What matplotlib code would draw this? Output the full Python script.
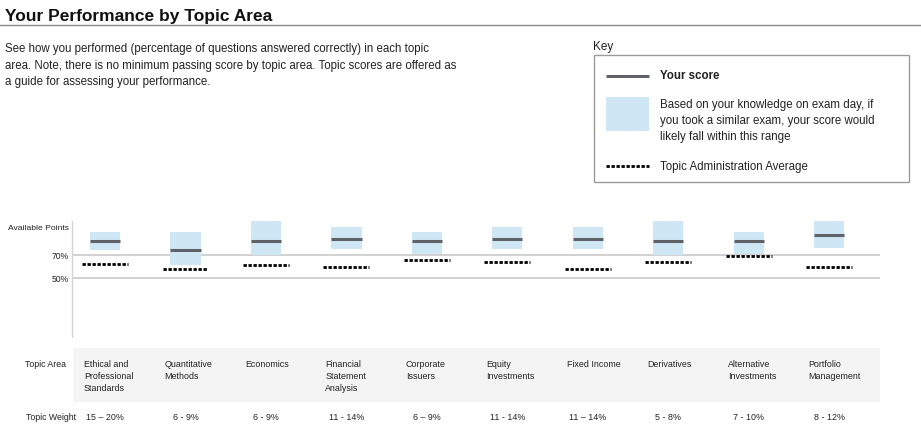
import matplotlib
matplotlib.use("Agg")
import matplotlib.pyplot as plt
from matplotlib.patches import Rectangle

plt.rcParams['font.family'] = ['Liberation Sans', 'DejaVu Sans']

# data (percent of available points)
topics = ["Ethical and\nProfessional\nStandards", "Quantitative\nMethods", "Economics",
          "Financial\nStatement\nAnalysis", "Corporate\nIssuers", "Equity\nInvestments",
          "Fixed Income", "Derivatives", "Alternative\nInvestments", "Portfolio\nManagement"]
weights = ["15 \u2013 20%", "6 - 9%", "6 - 9%", "11 - 14%", "6 \u2013 9%",
           "11 - 14%", "11 \u2013 14%", "5 - 8%", "7 - 10%", "8 - 12%"]
score = [82, 74, 82, 84, 82, 84, 84, 82, 82, 87]
range_low = [74, 61, 70, 75, 71, 75, 75, 70, 71, 76]
range_high = [90, 90, 100, 94, 90, 94, 94, 100, 90, 100]
topic_avg = [62, 58, 61, 60, 66, 64, 58, 64, 69, 60]

W, H = 921, 439
TXT = "#222222"
BLUE = "#cfe6f4"
SCORE_C = "#5f6266"
GRID_C = "#c9c9c9"

fig = plt.figure(figsize=(W / 100, H / 100), dpi=100)

# page overlay in pixel coordinates for layout items
page = fig.add_axes([0, 0, 1, 1])
page.set_xlim(0, W)
page.set_ylim(H, 0)
page.axis("off")

page.text(5, 17, "Your Performance by Topic Area", fontsize=12.5, fontweight="bold",
          color="#111111", va="center")
page.plot([0, W], [26, 26], color="#8a8a8a", lw=1)
page.text(5, 43, "See how you performed (percentage of questions answered correctly) in each topic\n"
          "area. Note, there is no minimum passing score by topic area. Topic scores are offered as\n"
          "a guide for assessing your performance.", fontsize=8.3, color=TXT, va="top",
          linespacing=1.5)

# key
page.text(593, 47, "Key", fontsize=8.5, color=TXT, va="center")
page.add_patch(Rectangle((594, 56), 315, 127, fill=False, edgecolor="#9a9a9a", lw=1))
page.plot([606, 649], [77, 77], color=SCORE_C, lw=2.2, solid_capstyle="butt")
page.text(660, 76, "Your score", fontsize=8.3, fontweight="bold", color=TXT, va="center")
page.add_patch(Rectangle((606, 98), 43, 34, facecolor=BLUE, edgecolor="none"))
page.text(660, 99, "Based on your knowledge on exam day, if\nyou took a similar exam, your score would\n"
          "likely fall within this range", fontsize=8.3, color=TXT, va="top", linespacing=1.42)
page.plot([606, 649], [167, 167], color="black", lw=2, linestyle=(0, (1.2, 0.6)))
page.text(660, 167, "Topic Administration Average", fontsize=8.3, color=TXT, va="center")

# table background and row labels
page.add_patch(Rectangle((73, 349), 807, 54, facecolor="#f4f4f4", edgecolor="none"))
page.text(25, 365, "Topic Area", fontsize=6.3, color=TXT, va="center")
page.text(26, 418, "Topic Weight", fontsize=6.3, color=TXT, va="center")

# chart axes
x0, x1 = 72, 880
y_top, y_bot = 221.5, 338
ax = fig.add_axes([x0 / W, 1 - y_bot / H, (x1 - x0) / W, (y_bot - y_top) / H])
ax.set_xlim(-0.41, 9.63)
ax.set_ylim(-1.3, 100)
ax.patch.set_alpha(0)
for s in ["top", "right", "bottom"]:
    ax.spines[s].set_visible(False)
ax.spines["left"].set_color("#d4d4d4")
ax.spines["left"].set_linewidth(1)
ax.set_xticks([])
ax.set_yticks([])
ax.axhline(70, color=GRID_C, lw=1.2, zorder=1)
ax.axhline(50, color=GRID_C, lw=1.2, zorder=1)
ylab = ax.get_yaxis_transform()
ax.text(-0.004, 94, "Available Points", fontsize=6.1, color=TXT, ha="right", va="center",
        transform=ylab)
ax.text(-0.004, 70, "70%", fontsize=6.2, color=TXT, ha="right", va="center", transform=ylab)
ax.text(-0.004, 50, "50%", fontsize=6.2, color=TXT, ha="right", va="center", transform=ylab)

pos = list(range(len(topics)))
bw = 0.375
ax.bar(pos, [h - l for h, l in zip(range_high, range_low)], bottom=range_low, width=bw,
       color=BLUE, edgecolor="none", zorder=2)
ax.hlines(score, [p - bw / 2 for p in pos], [p + bw / 2 for p in pos], color=SCORE_C,
          lw=2.2, zorder=3)
ax.hlines(topic_avg, [p - 0.285 for p in pos], [p + 0.285 for p in pos], color="black",
          lw=2, linestyles=[(0, (1.2, 0.6))], zorder=3)

# table text, sharing the chart's x scale
for p, name, wt in zip(pos, topics, weights):
    xf = ax.transData.transform((p, 0))[0]
    px = xf / fig.dpi * 100
    page.text(px - 21, 360, name, fontsize=6.4, color=TXT, va="top", ha="left", linespacing=1.4)
    page.text(px, 418, wt, fontsize=6.4, color=TXT, va="center", ha="center")

fig.savefig("out.png", dpi=100)
